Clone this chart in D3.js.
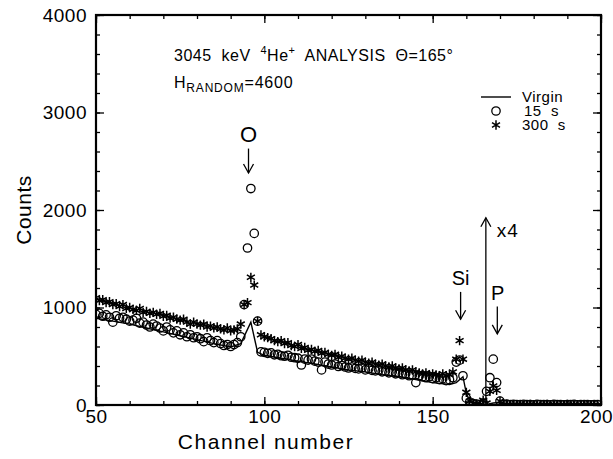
<!DOCTYPE html>
<html>
<head>
<meta charset="utf-8">
<script src="https://cdn.jsdelivr.net/npm/d3@7"></script>
<style>
  body { margin: 0; background: #fff; }
  text { font-family: 'Liberation Sans', Arial, sans-serif; fill: #000; }
</style>
</head>
<body>
<div id="chart"></div>
<script>
// data, channel 50..200

let firstChannel = 50

let counts15s = [
  930, 940, 910, 925, 900, 850, 915, 890, 900, 880,
  860, 870, 890, 840, 850, 820, 800, 830, 810, 790,
  760, 800, 770, 740, 760, 720, 740, 700, 720, 690,
  700, 680, 650, 690, 660, 640, 660, 630, 610, 620,
  600, 620, 640, 700, 1030, 1610, 2220, 1760, 860,
  545, 540, 530, 535, 515, 520, 505, 500, 510, 490,
  485, 480, 410, 470, 460, 470, 450, 440, 360, 440,
  420, 410, 420, 395, 405, 390, 380, 390, 375, 370,
  380, 360, 370, 355, 350, 360, 340, 350, 330, 340,
  320, 330, 310, 320, 300, 310, 230, 300, 290, 280,
  290, 270, 280, 260, 270, 250, 260, 280, 440, 460,
  300, 70, 30, 15, 10, 5, 20, 140, 280, 470,
  230, 40, 5, 8, 3, 6, 4, 2, 7, 3,
  5, 2, 6, 4, 3, 5, 2, 6, 3, 4,
  2, 5, 3, 6, 2, 4, 3, 5, 2, 4,
  3
]

let counts300s = [
  1100, 1070, 1080, 1050, 1060, 1030, 1040, 1010, 1030, 990,
  1000, 980, 970, 990, 950, 960, 940, 950, 930, 940,
  910, 920, 890, 900, 880, 870, 880, 850, 830, 850,
  830, 820, 830, 800, 810, 790, 800, 780, 770, 790,
  760, 770, 780, 830, 1030, 1050, 1310, 1230, 860,
  720, 700, 690, 680, 660, 650, 660, 630, 640, 610,
  600, 620, 580, 590, 560, 570, 550, 560, 530, 540,
  520, 510, 520, 490, 500, 480, 470, 480, 460, 450,
  460, 440, 430, 440, 420, 410, 420, 400, 390, 400,
  380, 370, 380, 360, 350, 360, 340, 330, 320, 330,
  310, 320, 310, 300, 320, 300, 310, 340, 470, 660,
  470, 130, 40, 15, 10, 5, 50, 20, 140, 195,
  150, 40, 4, 6, 2, 5, 3, 7, 2, 4,
  6, 3, 5, 2, 4, 6, 3, 5, 2, 4,
  3, 6, 2, 5, 3, 4, 2, 5, 3, 4,
  2
]

// virgin spectrum, line vertices [channel, counts]
let virginChannels = [50, 55, 60, 65, 70, 75, 80, 85, 90, 93, 96, 98, 100, 105, 110, 115, 120, 125, 130, 135, 140, 145, 150, 155, 157, 159, 160, 161, 163, 166, 168, 170, 172, 200]
let virginCounts   = [890, 860, 830, 790, 750, 710, 670, 630, 595, 630, 850, 540, 510, 480, 450, 420, 390, 360, 340, 310, 290, 260, 230, 210, 230, 290, 120, 40, 15, 5, 20, 25, 5, 5]

let xTicks = [50, 100, 150, 200]
let yTicks = [0, 1000, 2000, 3000, 4000]

let width = 613, height = 459
let margin = {left: 96, right: 12, top: 15, bottom: 54}

let x = d3.scaleLinear().domain([50, 200]).range([margin.left, width - margin.right])
let y = d3.scaleLinear().domain([0, 4000]).range([height - margin.bottom, margin.top])

let svg = d3.select('#chart')
.append('svg')
.attr('width', width)
.attr('height', height)

svg.append('defs').append('clipPath')
.attr('id', 'plot-clip')
.append('rect')
.attr('x', x(50)).attr('y', y(4000))
.attr('width', x(200) - x(50)).attr('height', y(0) - y(4000))

let minorX = d3.range(50, 201, 10)
let minorY = d3.range(0, 4001, 200)

function drawAxis(axis, tx, ty) {
    let g = svg.append('g')
    .attr('transform', `translate(${tx},${ty})`)
    .call(axis)
    g.select('.domain').remove()
    g.selectAll('.tick line').attr('stroke', '#000').attr('stroke-width', 1.3)
    g.selectAll('.tick text').style('font-size', '19px').style('letter-spacing', '0.5px')
    .style('font-family', "'Liberation Sans', Arial, sans-serif").attr('fill', '#000')
    return g
}

// ticks pointing inward on all four sides
drawAxis(d3.axisBottom(x).tickValues(minorX).tickSize(-4).tickFormat(''), 0, y(0))
let bottomAxis = drawAxis(d3.axisBottom(x).tickValues(xTicks).tickSize(-8).tickPadding(5), 0, y(0))
bottomAxis.selectAll('.tick text').filter(d => d == 200).attr('dx', -5)
drawAxis(d3.axisTop(x).tickValues(minorX).tickSize(-4).tickFormat(''), 0, y(4000))
drawAxis(d3.axisTop(x).tickValues(xTicks).tickSize(-8).tickFormat(''), 0, y(4000))
drawAxis(d3.axisLeft(y).tickValues(minorY).tickSize(-4).tickFormat(''), x(50), 0)
drawAxis(d3.axisLeft(y).tickValues(yTicks).tickSize(-8).tickPadding(9).tickFormat(d3.format('d')), x(50), 0)
drawAxis(d3.axisRight(y).tickValues(minorY).tickSize(-4).tickFormat(''), x(200), 0)
drawAxis(d3.axisRight(y).tickValues(yTicks).tickSize(-8).tickFormat(''), x(200), 0)

svg.append('rect')
.attr('x', x(50)).attr('y', y(4000))
.attr('width', x(200) - x(50)).attr('height', y(0) - y(4000))
.attr('fill', 'none')
.attr('stroke', '#000')
.attr('stroke-width', 2.2)

// axis titles
svg.append('text')
.attr('x', 266).attr('y', 449)
.attr('text-anchor', 'middle')
.style('font-size', '21px').style('letter-spacing', '1.5px')
.text('Channel number')

svg.append('text')
.attr('transform', `translate(31, ${y(2000)}) rotate(-90)`)
.attr('text-anchor', 'middle')
.style('font-size', '21px').style('letter-spacing', '0.5px')
.text('Counts')

let plot = svg.append('g').attr('clip-path', 'url(#plot-clip)')

let virgin = virginChannels.map((c, i) => [c, virginCounts[i]])

plot.append('path')
.datum(virgin)
.attr('d', d3.line().x(d => x(d[0])).y(d => y(d[1])))
.attr('fill', 'none')
.attr('stroke', '#000')
.attr('stroke-width', 1.4)

plot.append('g')
.selectAll('circle')
.data(counts15s)
.join('circle')
.attr('cx', (d, i) => x(firstChannel + i))
.attr('cy', d => y(d))
.attr('r', 4.2)
.attr('fill', 'none')
.attr('stroke', '#000')
.attr('stroke-width', 1.3)

let star = d3.symbol(d3.symbolAsterisk, 60)

plot.append('g')
.selectAll('path')
.data(counts300s)
.join('path')
.attr('transform', (d, i) => `translate(${x(firstChannel + i)},${y(d)})`)
.attr('d', star)
.attr('fill', 'none')
.attr('stroke', '#000')
.attr('stroke-width', 1.5)

// annotations
function arrowDown(ch, c0, c1) {
    let px = x(ch)
    svg.append('line')
    .attr('x1', px).attr('x2', px).attr('y1', y(c0)).attr('y2', y(c1))
    .attr('stroke', '#000').attr('stroke-width', 1.3)
    svg.append('path')
    .attr('d', `M${px - 5},${y(c1) - 9} L${px},${y(c1)} L${px + 5},${y(c1) - 9}`)
    .attr('fill', 'none').attr('stroke', '#000').attr('stroke-width', 1.3)
}

svg.append('text').attr('x', x(95.3)).attr('y', y(2700))
.attr('text-anchor', 'middle').style('font-size', '22px').text('O')
arrowDown(95.3, 2630, 2380)

svg.append('text').attr('x', x(158.3)).attr('y', y(1230))
.attr('text-anchor', 'middle').style('font-size', '20px').text('Si')
arrowDown(158.3, 1160, 880)

svg.append('text').attr('x', x(169.3)).attr('y', y(1080))
.attr('text-anchor', 'middle').style('font-size', '20px').text('P')
arrowDown(169.2, 1010, 730)

// x4 marker
let px4 = x(165.8)
svg.append('line')
.attr('x1', px4).attr('x2', px4).attr('y1', y(0)).attr('y2', y(1920))
.attr('stroke', '#000').attr('stroke-width', 1.3)
svg.append('path')
.attr('d', `M${px4 - 5},${y(1920) + 9} L${px4},${y(1920)} L${px4 + 5},${y(1920) + 9}`)
.attr('fill', 'none').attr('stroke', '#000').attr('stroke-width', 1.3)
svg.append('text').attr('x', px4 + 11).attr('y', y(1720))
.style('font-size', '19px').style('letter-spacing', '1px').text('x4')

// title block
let t1 = svg.append('text').attr('x', 174).attr('y', 61)
.style('font-size', '16px').style('white-space', 'pre').style('letter-spacing', '0.5px')
t1.append('tspan').text('3045  keV  ')
t1.append('tspan').attr('dy', -7).style('font-size', '11px').text('4')
t1.append('tspan').attr('dy', 7).text('He')
t1.append('tspan').attr('dy', -7).style('font-size', '11px').text('+')
t1.append('tspan').attr('dy', 7).text('  ANALYSIS  Θ=165°')

let t2 = svg.append('text').attr('x', 174).attr('y', 88)
.style('font-size', '16px').style('letter-spacing', '0.8px')
t2.append('tspan').text('H')
t2.append('tspan').attr('dy', 4).style('font-size', '12px').text('RANDOM')
t2.append('tspan').attr('dy', -4).text('=4600')

// legend
let legendItems = ['Virgin', '15  s', '300  s']
let legend = svg.append('g').attr('transform', 'translate(481, 97)')
legend.append('line').attr('x1', 0).attr('x2', 30).attr('y1', 0).attr('y2', 0)
.attr('stroke', '#000').attr('stroke-width', 1.4)
legend.append('circle').attr('cx', 15).attr('cy', 14).attr('r', 4.2)
.attr('fill', 'none').attr('stroke', '#000').attr('stroke-width', 1.3)
legend.append('path').attr('transform', 'translate(15, 28)').attr('d', star)
.attr('fill', 'none').attr('stroke', '#000').attr('stroke-width', 1.5)
legend.selectAll('text.leg')
.data(legendItems)
.join('text')
.attr('class', 'leg')
.attr('x', (d, i) => i == 1 ? 43 : 41)
.attr('y', (d, i) => 5 + i * 14)
.style('font-size', '15px').style('white-space', 'pre').style('letter-spacing', '0.5px')
.text(d => d)
</script>
</body>
</html>
